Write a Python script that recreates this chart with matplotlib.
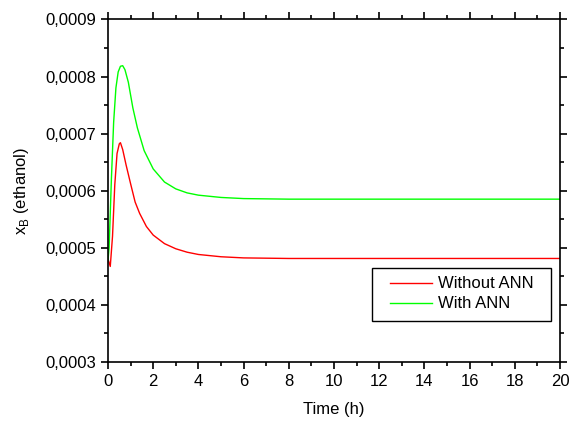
import matplotlib
matplotlib.use("Agg")
import matplotlib.pyplot as plt
from matplotlib.patches import Rectangle
from matplotlib.ticker import MultipleLocator, FuncFormatter

plt.rcParams['font.family'] = ['Liberation Sans', 'DejaVu Sans']
plt.rcParams['mathtext.fontset'] = 'custom'
plt.rcParams['mathtext.rm'] = 'Liberation Sans'

# values
t_without = [0, 0.1, 0.2, 0.3, 0.4, 0.5, 0.55, 0.65, 0.8, 1.0, 1.2, 1.4, 1.7,
             2.0, 2.5, 3.0, 3.5, 4.0, 5.0, 6.0, 8.0, 10, 20]
x_without = [0.000480, 0.000467, 0.000520, 0.000610, 0.000665, 0.000682,
             0.000684, 0.000672, 0.000645, 0.000612, 0.000580, 0.000560,
             0.000537, 0.000522, 0.000507, 0.000498, 0.000492, 0.000488,
             0.000484, 0.000482, 0.000481, 0.000481, 0.000481]

t_with = [0, 0.05, 0.15, 0.25, 0.35, 0.45, 0.55, 0.65, 0.75, 0.9, 1.1, 1.3,
          1.6, 2.0, 2.5, 3.0, 3.5, 4.0, 5.0, 6.0, 8, 10, 20]
x_with = [0.000478, 0.000500, 0.000620, 0.000720, 0.000780, 0.000808,
          0.000818, 0.000819, 0.000812, 0.000790, 0.000745, 0.000710,
          0.000670, 0.000638, 0.000615, 0.000603, 0.000596, 0.000592,
          0.000588, 0.000586, 0.000585, 0.000585, 0.000585]

fig = plt.figure(figsize=(5.69, 4.21), dpi=100)
ax = fig.add_axes([108 / 569, 1 - 361.7 / 421, 452 / 569, 342.2 / 421])

ax.plot(t_without, x_without, color='#ff0000', lw=1.0, label='Without ANN')
ax.plot(t_with, x_with, color='#00ff00', lw=1.0, label='With ANN')

ax.set_xlim(0, 20)
ax.set_ylim(0.0003, 0.0009)
ax.xaxis.set_major_locator(MultipleLocator(2))
ax.xaxis.set_minor_locator(MultipleLocator(1))
ax.yaxis.set_major_locator(MultipleLocator(0.0001))
ax.yaxis.set_minor_locator(MultipleLocator(0.00005))
ax.yaxis.set_major_formatter(FuncFormatter(lambda v, p: f"{v:.4f}".replace('.', ',')))

ax.tick_params(which='both', direction='out', top=True, right=True,
               labelsize=12, width=1.2, colors='black')
ax.tick_params(which='major', length=5)
ax.tick_params(which='minor', length=3)
for s in ax.spines.values():
    s.set_linewidth(1.2)

ax.set_xlabel('Time (h)', fontsize=12, labelpad=10)
ax.set_ylabel(r'x$_\mathrm{B}$ (ethanol)', fontsize=12, labelpad=10)

# legend box drawn separately so the entries can sit where they do in the original
ax.add_patch(Rectangle((0.584, 0.119), 0.397, 0.154, transform=ax.transAxes,
                       facecolor='white', edgecolor='black', lw=1.0, zorder=4))
leg = ax.legend(loc='center left', bbox_to_anchor=(0.624, 0.198),
                fontsize=12, frameon=False, borderpad=0, labelspacing=0.3,
                handlelength=2.5, handletextpad=0.4, borderaxespad=0)
leg.set_zorder(5)

fig.savefig('out.png', dpi=100)
